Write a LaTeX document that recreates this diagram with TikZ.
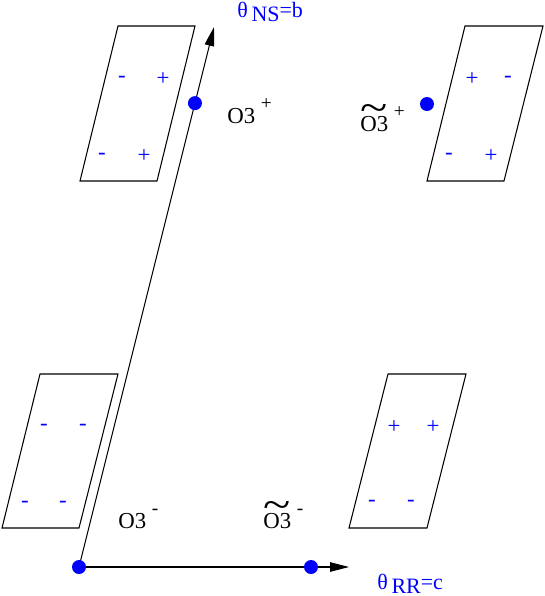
\documentclass[tikz,border=0pt]{standalone}
\usepackage{fontspec}
\setmainfont{Liberation Serif}
\usepackage{graphicx}
\usetikzlibrary{arrows.meta,calc}

\newcommand{\upsgn}[1]{\raisebox{0.27cm}{\fontsize{11}{12}\selectfont #1}}
\newcommand{\tld}[1]{\ooalign{#1\cr\hidewidth\raisebox{0.42em}{\scalebox{2.2}[1.8]{\textasciitilde}}\hidewidth\cr}}

\begin{document}
\begin{tikzpicture}[x=0.02cm,y=-0.02cm,
    plate/.style={draw,line width=0.6pt,line join=miter},
    axis/.style={draw,line width=0.6pt,-{Triangle[length=0.38cm,width=0.19cm]}},
    dot/.style={fill=blue,draw=none,circle,inner sep=0pt,minimum size=0.28cm},
    sgn/.style={text=blue,font=\fontsize{13}{15}\selectfont,inner sep=0pt},
    lbl/.style={font=\fontsize{13}{15}\selectfont,inner sep=0pt,anchor=base west},
    axlbl/.style={text=blue,font=\fontsize{12.5}{14}\selectfont,inner sep=0pt,anchor=base west}]
      \useasboundingbox (0,0) rectangle (545,596);

      % plates
      \draw[plate] (118,26) -- (195,26) -- (157,181) -- (80,181) -- cycle;
      \draw[plate] (465,26) -- (543,26) -- (504,181) -- (427,181) -- cycle;
      \draw[plate] (40,374) -- (118,374) -- (79,528) -- (2,528) -- cycle;
      \draw[plate] (388,374) -- (466,374) -- (427,528) -- (349,528) -- cycle;

      \node[sgn] (tl1) at (122,79) {-};
      \node[sgn] (tl2) at (163,79) {+};
      \node[sgn] (tl3) at (102,156) {-};
      \node[sgn] (tl4) at (144,156) {+};

      \node[sgn] (tr1) at (472,79) {+};
      \node[sgn] (tr2) at (508,79) {-};
      \node[sgn] (tr3) at (449,156) {-};
      \node[sgn] (tr4) at (491,156) {+};

      \node[sgn] (bl1) at (44,427) {-};
      \node[sgn] (bl2) at (83,427) {-};
      \node[sgn] (bl3) at (25,504) {-};
      \node[sgn] (bl4) at (63,504) {-};

      \node[sgn] (br1) at (394,427) {+};
      \node[sgn] (br2) at (433,427) {+};
      \node[sgn] (br3) at (372,503) {-};
      \node[sgn] (br4) at (411,503) {-};

      % axes
      \coordinate (o) at (79,567);
      \coordinate (nstip) at (214,27);
      \coordinate (rrtip) at (349,567);
      \draw[axis] (o) -- (nstip);
      \draw[axis] (o) -- (rrtip);

      \node[dot] (origin) at (o){};
      \node[dot] (b) at ($(o)!0.859!(nstip)$){};
      \node[dot] (c) at (311,567){};
      \node[dot] (bc) at (427,104){};

      \node[axlbl] (nslabel) at (237,17) {θ\,\raisebox{-0.09cm}{NS}=b};
      \node[axlbl] (rrlabel) at (377,589) {θ\,\raisebox{-0.08cm}{RR}=c};

      \node[lbl] (o3p) at (227,123) {O3\ \upsgn{+}};
      \node[lbl] (to3p) at (360,131) {\tld{O3}\ \upsgn{+}};
      \node[lbl] (o3m) at (118,528) {O3\ \upsgn{-}};
      \node[lbl] (to3m) at (263,528) {\tld{O3}\ \upsgn{-}};
    \end{tikzpicture}
\end{document}
